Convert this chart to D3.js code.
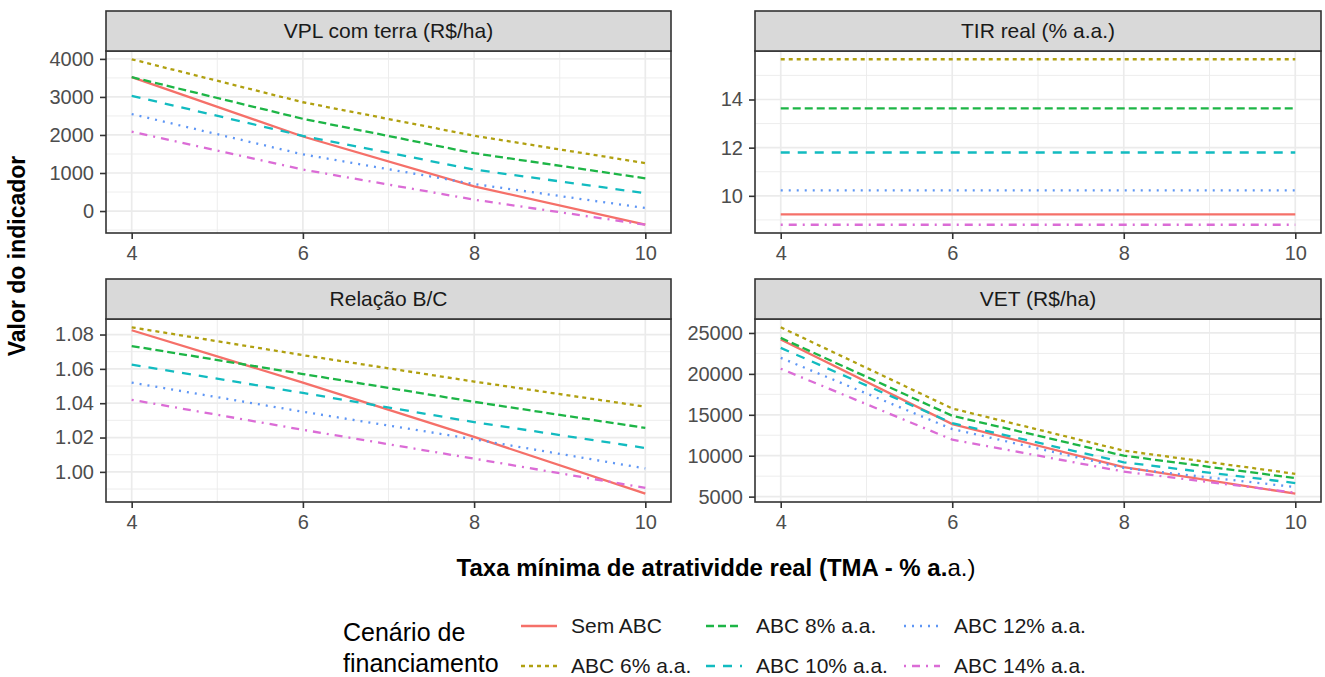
<!DOCTYPE html>
<html>
<head>
<meta charset="utf-8">
<script src="https://cdn.jsdelivr.net/npm/d3@7"></script>
<style>
  body { margin: 0; background: #fff; }
  text { font-family: "Liberation Sans", Arial, sans-serif; }
</style>
</head>
<body>
<svg id="chart" width="1325" height="677"></svg>
<script>
// taxa minima de atratividade (x)
const tma = [4, 6, 8, 10];

const scenarios = ['Sem ABC', 'ABC 6% a.a.', 'ABC 8% a.a.', 'ABC 10% a.a.', 'ABC 12% a.a.', 'ABC 14% a.a.'];
const colors = ['#F57069', '#B0A010', '#1DB546', '#12BBC0', '#5E96F5', '#DB6CD6'];
const dashes = [null, '4,4', '8,4', '9,8', '2,6', '2,6,8,6'];

// one row per scenario, same order as above
const vplValues = [
  [3520, 1960, 650, -360],
  [3990, 2860, 1980, 1260],
  [3520, 2425, 1520, 860],
  [3030, 1975, 1090, 470],
  [2550, 1490, 710, 80],
  [2085, 1090, 300, -360]
];
const tirValues = [
  [9.23, 9.23, 9.23, 9.23],
  [15.67, 15.67, 15.67, 15.67],
  [13.63, 13.63, 13.63, 13.63],
  [11.8, 11.8, 11.8, 11.8],
  [10.23, 10.23, 10.23, 10.23],
  [8.8, 8.8, 8.8, 8.8]
];
const bcValues = [
  [1.0825, 1.052, 1.0204, 0.9873],
  [1.0842, 1.068, 1.0526, 1.038],
  [1.0733, 1.057, 1.0408, 1.0256],
  [1.0625, 1.046, 1.029, 1.0139],
  [1.052, 1.035, 1.019, 1.002],
  [1.042, 1.0245, 1.0077, 0.9907]
];
const vetValues = [
  [24200, 13870, 8600, 5360],
  [25690, 15770, 10620, 7790],
  [24400, 14880, 10000, 7270],
  [23180, 13990, 9190, 6660],
  [21960, 13260, 8500, 6170],
  [20630, 11960, 8060, 5490]
];

const xTicks = [4, 6, 8, 10];
const vplTicks = [0, 1000, 2000, 3000, 4000];
const tirTicks = [10, 12, 14];
const bcTicks = [1.00, 1.02, 1.04, 1.06, 1.08];
const vetTicks = [5000, 10000, 15000, 20000, 25000];

const svg = d3.select('#chart');

const cols = [{x0: 106, x1: 671}, {x0: 755, x1: 1321}];
const rows = [{s0: 11, p0: 51, p1: 233}, {s0: 279, p0: 319, p1: 502}];

const panels = [
  {title: 'VPL com terra (R$/ha)', values: vplValues, ticks: vplTicks, fmt: d3.format('d'), c: 0, r: 0},
  {title: 'TIR real (% a.a.)', values: tirValues, ticks: tirTicks, fmt: d3.format('d'), c: 1, r: 0},
  {title: 'Relação B/C', values: bcValues, ticks: bcTicks, fmt: d3.format('.2f'), c: 0, r: 1},
  {title: 'VET (R$/ha)', values: vetValues, ticks: vetTicks, fmt: d3.format('d'), c: 1, r: 1}
];

function expand(ext) {
  const pad = (ext[1] - ext[0]) * 0.05;
  return [ext[0] - pad, ext[1] + pad];
}

function minors(ticks, dom) {
  const step = ticks[1] - ticks[0];
  const out = [];
  for (let v = ticks[0] - step / 2; v <= ticks[ticks.length - 1] + step; v += step) {
    if (v >= dom[0] && v <= dom[1]) out.push(v);
  }
  return out;
}

panels.forEach(p => {
  const col = cols[p.c], row = rows[p.r];
  const x = d3.scaleLinear().domain(expand(d3.extent(tma))).range([col.x0, col.x1]);
  const ydom = expand(d3.extent(p.values.flat()));
  const y = d3.scaleLinear().domain(ydom).range([row.p1, row.p0]);
  const g = svg.append('g');

  // grid
  g.selectAll('.xmin').data(minors(xTicks, x.domain())).enter().append('line')
    .attr('x1', d => x(d)).attr('x2', d => x(d)).attr('y1', row.p0).attr('y2', row.p1)
    .attr('stroke', '#EBEBEB').attr('stroke-width', 0.9);
  g.selectAll('.ymin').data(minors(p.ticks, ydom)).enter().append('line')
    .attr('y1', d => y(d)).attr('y2', d => y(d)).attr('x1', col.x0).attr('x2', col.x1)
    .attr('stroke', '#EBEBEB').attr('stroke-width', 0.9);
  g.selectAll('.xmaj').data(xTicks).enter().append('line')
    .attr('x1', d => x(d)).attr('x2', d => x(d)).attr('y1', row.p0).attr('y2', row.p1)
    .attr('stroke', '#EBEBEB').attr('stroke-width', 1.7);
  g.selectAll('.ymaj').data(p.ticks).enter().append('line')
    .attr('y1', d => y(d)).attr('y2', d => y(d)).attr('x1', col.x0).attr('x2', col.x1)
    .attr('stroke', '#EBEBEB').attr('stroke-width', 1.7);

  // lines
  const line = d3.line().x((d, i) => x(tma[i])).y(d => y(d));
  g.selectAll('.serie').data(p.values).enter().append('path')
    .attr('d', line)
    .attr('fill', 'none')
    .attr('stroke', (d, i) => colors[i])
    .attr('stroke-width', 2.3)
    .attr('stroke-dasharray', (d, i) => dashes[i]);

  // border
  g.append('rect').attr('x', col.x0).attr('y', row.p0)
    .attr('width', col.x1 - col.x0).attr('height', row.p1 - row.p0)
    .attr('fill', 'none').attr('stroke', '#333333').attr('stroke-width', 1.6);

  // strip
  g.append('rect').attr('x', col.x0).attr('y', row.s0)
    .attr('width', col.x1 - col.x0).attr('height', row.p0 - row.s0)
    .attr('fill', '#D9D9D9').attr('stroke', '#333333').attr('stroke-width', 1.6);
  g.append('text').attr('x', (col.x0 + col.x1) / 2).attr('y', (row.s0 + row.p0) / 2 + 7)
    .attr('text-anchor', 'middle').attr('font-size', 21).attr('fill', '#1A1A1A')
    .text(p.title);

  // axes
  const xa = g.append('g').attr('transform', `translate(0,${row.p1})`)
    .call(d3.axisBottom(x).tickValues(xTicks).tickFormat(d3.format('d')).tickSize(6).tickPadding(7));
  const ya = g.append('g').attr('transform', `translate(${col.x0},0)`)
    .call(d3.axisLeft(y).tickValues(p.ticks).tickFormat(p.fmt).tickSize(6).tickPadding(6));
  [xa, ya].forEach(a => {
    a.select('.domain').remove();
    a.selectAll('.tick line').attr('stroke', '#333333').attr('stroke-width', 1.6);
    a.selectAll('.tick text').attr('fill', '#4D4D4D').attr('font-size', 20)
      .attr('font-family', '"Liberation Sans", Arial, sans-serif');
  });
});

// axis titles
svg.append('text')
  .attr('transform', 'translate(25,256) rotate(-90)')
  .attr('text-anchor', 'middle').attr('font-size', 23).attr('font-weight', 'bold')
  .text('Valor do indicador');

const xt = svg.append('text').attr('x', 716).attr('y', 576)
  .attr('text-anchor', 'middle').attr('font-size', 24);
xt.append('tspan').attr('font-weight', 'bold').text('Taxa mínima de atratividde real (TMA - % a.');
xt.append('tspan').text('a.)');

// legend
const leg = svg.append('g');
leg.append('text').attr('x', 343).attr('y', 641).attr('font-size', 25).text('Cenário de');
leg.append('text').attr('x', 343).attr('y', 672).attr('font-size', 25).text('financiamento');

const keyX = [521, 706, 904];
const keyY = [626, 666];
const items = leg.selectAll('.item').data(scenarios).enter().append('g')
  .attr('transform', (d, i) => `translate(${keyX[Math.floor(i / 2)]},${keyY[i % 2]})`);
items.append('line').attr('x1', 0).attr('x2', 36).attr('y1', 0).attr('y2', 0)
  .attr('stroke', (d, i) => colors[i]).attr('stroke-width', 2.3)
  .attr('stroke-dasharray', (d, i) => dashes[i]);
items.append('text').attr('x', 50).attr('y', 7).attr('font-size', 21).attr('fill', '#1A1A1A')
  .text(d => d);
</script>
</body>
</html>
